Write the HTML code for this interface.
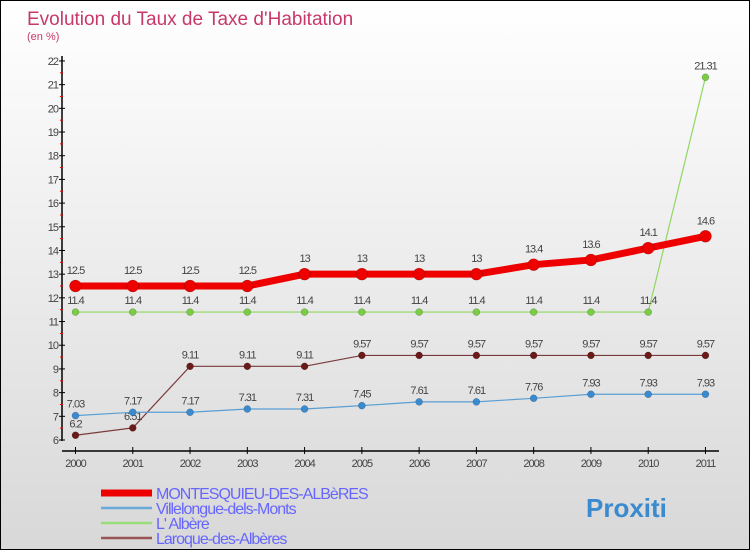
<!DOCTYPE html>
<html><head><meta charset="utf-8"><style>
body{margin:0}
#c{position:relative;width:748px;height:548px;border:1px solid #000;background:linear-gradient(#fff,#d8d8d8);font-family:"Liberation Sans",sans-serif;overflow:hidden}
</style></head><body>
<div id="c">
<svg width="748" height="548" id="s" style="position:absolute;left:0;top:0">
<text x="26" y="24" font-size="19" fill="#c8386a">Evolution du Taux de Taxe d'Habitation</text>
<text x="26" y="39" font-size="11" fill="#c8386a">(en %)</text>
<g id="axes"></g><g id="series"></g><g id="legend"></g>
</svg></div>
<script>
const years=[2000,2001,2002,2003,2004,2005,2006,2007,2008,2009,2010,2011];
const montesquieu=[12.5,12.5,12.5,12.5,13,13,13,13,13.4,13.6,14.1,14.6];
const villelongue=[7.03,7.17,7.17,7.31,7.31,7.45,7.61,7.61,7.76,7.93,7.93,7.93];
const albere=[11.4,11.4,11.4,11.4,11.4,11.4,11.4,11.4,11.4,11.4,11.4,21.31];
const laroque=[6.2,6.51,9.11,9.11,9.11,9.57,9.57,9.57,9.57,9.57,9.57,9.57];
const yTicks=[6,7,8,9,10,11,12,13,14,15,16,17,18,19,20,21,22];
const seriesNames=["MONTESQUIEU-DES-ALBèRES","Villelongue-dels-Monts","L' Albère","Laroque-des-Albères"];
const NS="http://www.w3.org/2000/svg";
const X=i=>74.5+i*57.27, Y=v=>439-(v-6)*23.69;
function mk(t,a,p){const e=document.createElementNS(NS,t);for(const k in a)e.setAttribute(k,a[k]);p.appendChild(e);return e;}
const ax=document.getElementById('axes');
let e=mk('line',{x1:61,y1:55,x2:61,y2:440,stroke:'#000','stroke-width':1.5},ax);

e=mk('line',{x1:61,y1:450,x2:718,y2:450,stroke:'#000','stroke-width':1.5},ax);

yTicks.forEach(v=>{const y=Y(v);
 mk('line',{x1:58,y1:y,x2:64,y2:y,stroke:'#000'},ax);
 if(v<22)mk('line',{x1:59,y1:y-11.85,x2:62,y2:y-11.85,stroke:'#e00'},ax);
 const t=mk('text',{x:57,y:y+4,'font-size':11,fill:'#444','text-anchor':'end','letter-spacing':'-1'},ax);t.textContent=v;
 });
years.forEach((yr,i)=>{const x=X(i);
 mk('line',{x1:x,y1:446,x2:x,y2:453,stroke:'#000'},ax);
 const t=mk('text',{x:x,y:466,'font-size':11,fill:'#444','text-anchor':'middle','letter-spacing':'-1'},ax);t.textContent=yr;
 });
const sg=document.getElementById('series');
function draw(vals,col,dot,w,r,name,dy){
 const g=mk('g',{},sg);
 mk('polyline',{points:vals.map((v,i)=>X(i)+','+Y(v)).join(' '),fill:'none',stroke:col,'stroke-width':w},g);
 vals.forEach((v,i)=>{mk('circle',{cx:X(i),cy:Y(v),r:r,fill:dot,stroke:'rgba(0,0,0,0.3)','stroke-width':0.5},g);
  const t=mk('text',{x:X(i),y:Y(v)-dy,'font-size':11,fill:'#444','text-anchor':'middle','letter-spacing':'-1'},g);t.textContent=v;});
}
draw(laroque,'#7a3b3b','#6b1a1a',1.2,3.5,'series-laroque',8);
draw(villelongue,'#5a9fd4','#3a8ad0',1.2,3.5,'series-villelongue',8);
draw(albere,'#8fd860','#7acc44',1.2,3.5,'series-albere',8);
draw(montesquieu,'#ee0000','#ee0000',7,6,'series-montesquieu',12);
const lg=document.getElementById('legend');
const lc=['#ee0000','#6aaad8','#99dd77','#995555'],lw=[7,2.5,2.5,2.5],ly=[492,507,522,537];
seriesNames.forEach((n,i)=>{const g=mk('g',{},lg);
 mk('line',{x1:100,y1:ly[i],x2:151,y2:ly[i],stroke:lc[i],'stroke-width':lw[i]},g);
 const t=mk('text',{x:155,y:ly[i]+6,'font-size':16,fill:'#6666ff','letter-spacing':'-1'},g);t.textContent=n;});
const lo=mk('text',{x:585,y:516,'font-size':26,'font-weight':'bold',fill:'#3a8ad0'},lg);
lo.textContent='Proxiti';
</script>
</body></html>
